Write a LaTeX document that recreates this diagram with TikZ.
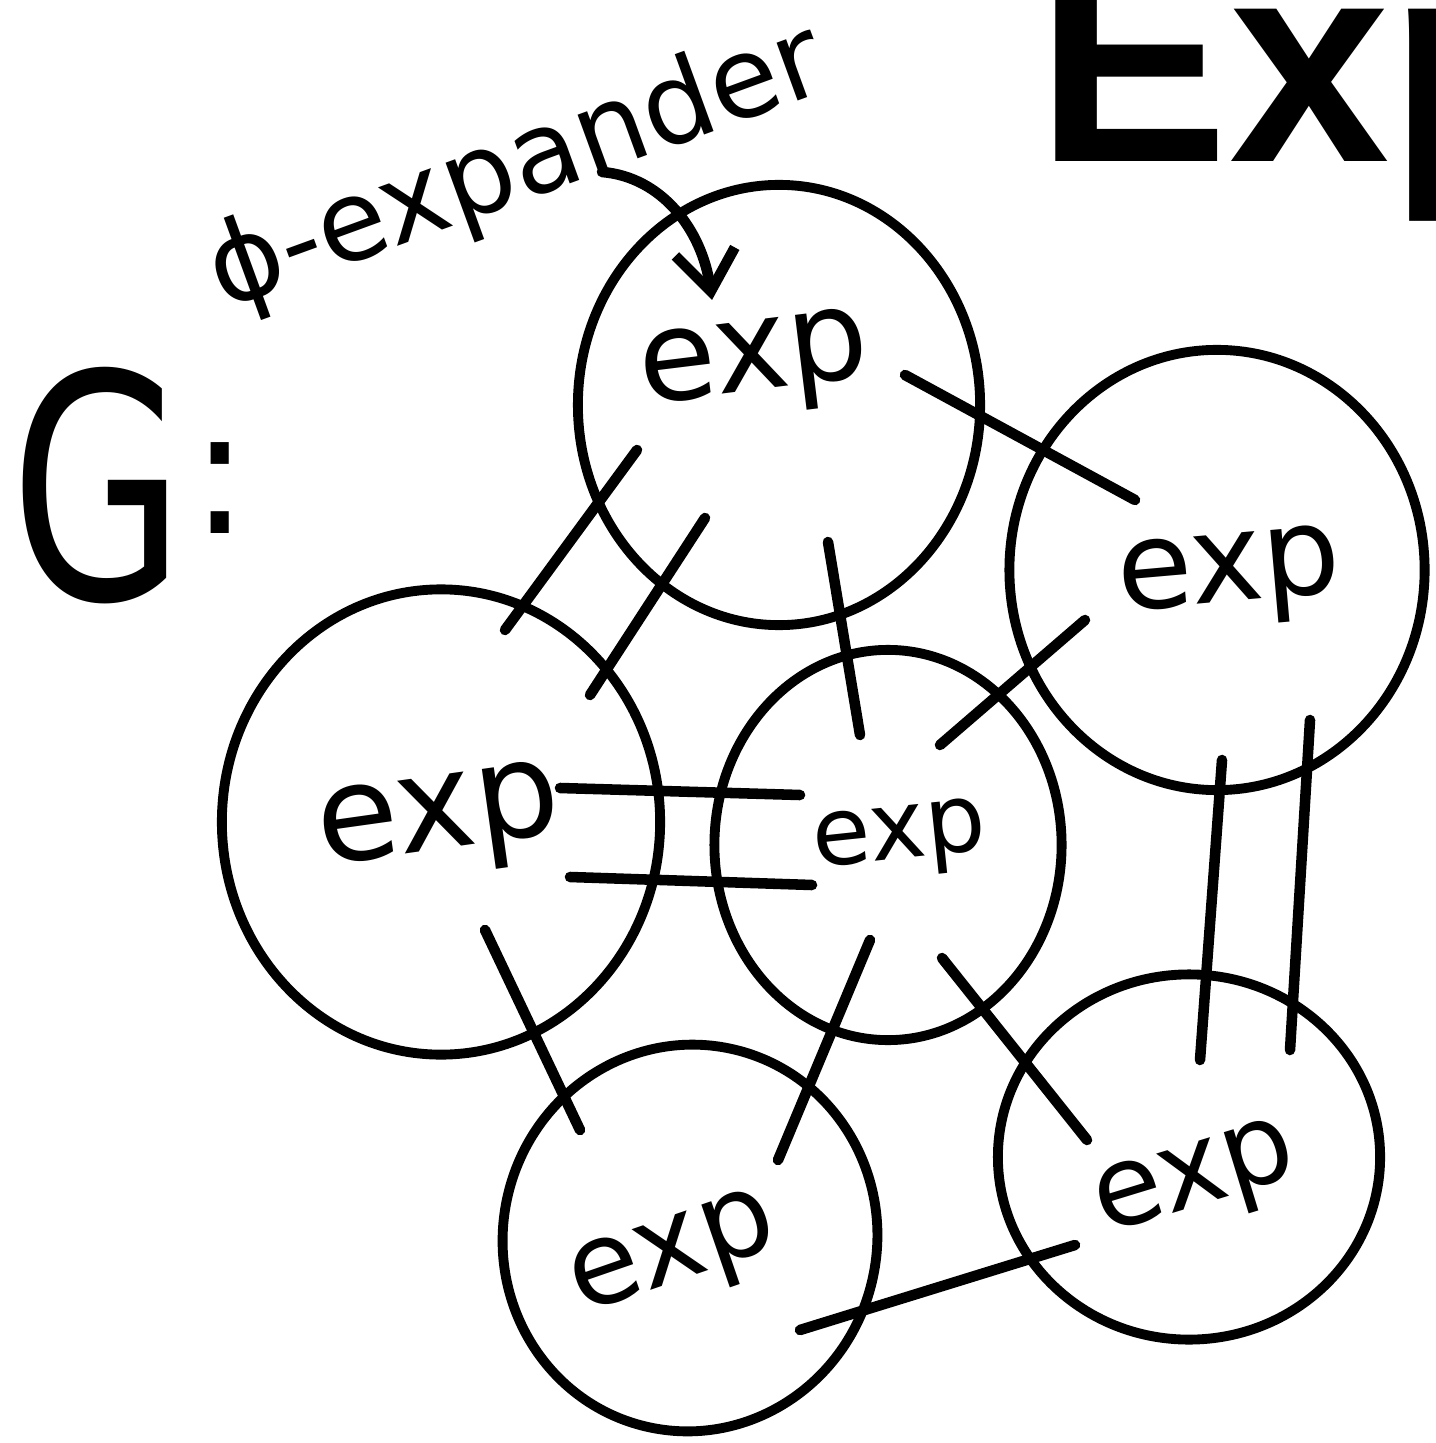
\documentclass[tikz,border=0pt]{standalone}
\usepackage{fontspec}
\setmainfont{DejaVu Sans}
\newfontfamily\titlefont{Liberation Sans}
\usepackage{tikz}
\usetikzlibrary{positioning,shapes.geometric,arrows.meta}

\tikzset{
  blob/.style={draw, ellipse, line width=2.8pt, inner sep=0pt},
  link/.style={line width=3pt, line cap=round},
  explbl/.style={inner sep=0pt, font=\fontsize{#1pt}{#1pt}\selectfont},
}

\begin{document}
\begin{tikzpicture}[x=0.01cm, y=-0.01cm]
\clip (0,0) rectangle (1435,1443);
% Title, cut by the page edge
\node[anchor=base west, inner sep=0pt, font=\titlefont\bfseries\fontsize{82pt}{82pt}\selectfont] (title) at (1036,162) {Exp};
% Graph name
\node[explbl=89, xscale=0.72, anchor=base west] (G) at (10,600) {G};
\node[explbl=50, anchor=base west] (colon) at (190,534) {:};
% Expander vertices
\node[blob, minimum width=4.02cm, minimum height=4.40cm] (T) at (779,405) {};
\node[blob, minimum width=4.15cm, minimum height=4.40cm] (R) at (1217,570) {};
\node[blob, minimum width=4.38cm, minimum height=4.65cm] (L) at (441,822) {};
\node[blob, minimum width=3.47cm, minimum height=3.90cm] (C) at (888,845) {};
\node[blob, minimum width=3.74cm, minimum height=3.87cm, rotate=-12] (BL) at (690,1238) {};
\node[blob, minimum width=3.82cm, minimum height=3.65cm] (BR) at (1189,1157) {};
% Labels inside the vertices
\node[explbl=36, rotate=7] (eT) at (755,368) {exp};
\node[explbl=35, rotate=5] (eR) at (1230,580) {exp};
\node[explbl=38, rotate=8] (eL) at (440,825) {exp};
\node[explbl=27, rotate=6] (eC) at (900,842) {exp};
\node[explbl=33, rotate=19] (eBL) at (675,1260) {exp};
\node[explbl=32, rotate=17] (eBR) at (1197,1185) {exp};
% Edges
\draw[link] ([shift={(-142,45)}]T.center) -- ([shift={(64,-192)}]L.center);
\draw[link] ([shift={(-74,113)}]T.center) -- ([shift={(149,-127)}]L.center);
\draw[link] ([shift={(126,-30)}]T.center) -- ([shift={(-82,-70)}]R.center);
\draw[link] ([shift={(49,137)}]T.center) -- ([shift={(-28,-110)}]C.center);
\draw[link] ([shift={(-132,50)}]R.center) -- ([shift={(52,-100)}]C.center);
\draw[link] ([shift={(5,190)}]R.center) -- ([shift={(11,-97)}]BR.center);
\draw[link] ([shift={(93,150)}]R.center) -- ([shift={(101,-107)}]BR.center);
\draw[link] ([shift={(119,-34)}]L.center) -- ([shift={(-88,-50)}]C.center);
\draw[link] ([shift={(129,55)}]L.center) -- ([shift={(-76,40)}]C.center);
\draw[link] ([shift={(44,108)}]L.center) -- ([shift={(-110,-108)}]BL.center);
\draw[link] ([shift={(-18,95)}]C.center) -- ([shift={(88,-78)}]BL.center);
\draw[link] ([shift={(54,113)}]C.center) -- ([shift={(-102,-17)}]BR.center);
\draw[link] ([shift={(110,92)}]BL.center) -- ([shift={(-114,88)}]BR.center);
% Annotation
\node[explbl=32, rotate=20] (phi) at (517,170) {ϕ-expander};
\draw[link, -{Straight Barb[length=4mm, width=6mm]}] ([shift={(85,2)}]phi.center) .. controls +(60,5) and +(-10,-70) .. ([shift={(-43,-68)}]eT.center);
\end{tikzpicture}
\end{document}
